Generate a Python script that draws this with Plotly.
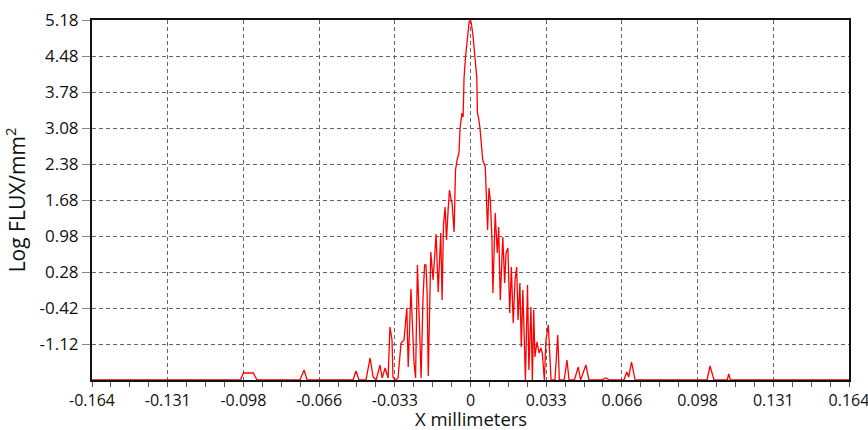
import plotly.graph_objects as go

x_mm = [-0.1640, -0.0997, -0.0984, -0.0941, -0.0925, -0.0739, -0.0721, -0.0708,
        -0.0509, -0.0496, -0.0483, -0.0453, -0.0435, -0.0422, -0.0409, -0.0392,
        -0.0383, -0.0370, -0.0357, -0.0349, -0.0340, -0.0336, -0.0327, -0.0314,
        -0.0301, -0.0288, -0.0276, -0.0270, -0.0258, -0.0245, -0.0238, -0.0230,
        -0.0221, -0.0214, -0.0206, -0.0199, -0.0193, -0.0188, -0.0183, -0.0172,
        -0.0162, -0.0149, -0.0140, -0.0129, -0.0123, -0.0117, -0.0110, -0.0104,
        -0.0097, -0.0091, -0.0084, -0.0080, -0.0071, -0.0065, -0.0058, -0.0050,
        -0.0045, -0.0037, -0.0032, -0.0028, -0.0022, -0.0013, -0.0006, 0.0000,
        0.0004, 0.0011, 0.0019, 0.0027, 0.0030, 0.0035, 0.0041, 0.0053,
        0.0064, 0.0069, 0.0074, 0.0080, 0.0086, 0.0093, 0.0097, 0.0107,
        0.0116, 0.0122, 0.0129, 0.0140, 0.0148, 0.0154, 0.0162, 0.0170,
        0.0177, 0.0185, 0.0193, 0.0200, 0.0206, 0.0214, 0.0220, 0.0227,
        0.0235, 0.0238, 0.0247, 0.0253, 0.0262, 0.0268, 0.0274, 0.0279,
        0.0288, 0.0297, 0.0305, 0.0311, 0.0320, 0.0327, 0.0337, 0.0349,
        0.0366, 0.0378, 0.0385, 0.0406, 0.0418, 0.0427, 0.0450, 0.0467,
        0.0477, 0.0500, 0.0513, 0.0565, 0.0587, 0.0601, 0.0617, 0.0665,
        0.0677, 0.0685, 0.0698, 0.0713, 0.1025, 0.1038, 0.1055, 0.1112,
        0.1119, 0.1126, 0.1640]

log_flux = [-1.82, -1.82, -1.684, -1.684, -1.82, -1.82, -1.625, -1.82,
            -1.82, -1.645, -1.82, -1.82, -1.392, -1.762, -1.82, -1.528,
            -1.781, -1.586, -1.781, -0.789, -1.042, -1.762, -1.82, -1.781,
            -1.101, -1.042, -0.420, -1.567, -0.051, -1.470, -1.781, 0.416,
            -0.769, -1.781, -0.264, 0.416, 0.416, -0.128, -1.742, 0.669,
            0.124, 1.019, -0.109, 1.039, -0.264, 1.213, 1.544, 0.902,
            1.486, 1.874, 1.680, 1.622, 1.058, 2.263, 2.458, 2.594,
            3.080, 3.372, 3.294, 4.052, 4.441, 4.888, 5.141, 5.180,
            5.102, 4.869, 4.441, 4.072, 3.372, 3.275, 3.080, 2.458,
            2.322, 1.583, 1.097, 1.913, 1.680, 0.902, -0.128, 1.427,
            0.649, 1.155, -0.264, 0.961, 0.066, 0.649, 0.747, -0.517,
            0.377, -0.711, 0.124, 0.377, -0.653, 0.066, -1.178, -0.070,
            -1.567, -1.820, 0.027, -1.625, -0.401, -1.820, -0.459, -1.373,
            -1.081, -1.295, -1.198, -1.295, -1.820, -1.042, -0.750, -1.820,
            -1.820, -0.945, -1.820, -1.820, -1.431, -1.820, -1.820, -1.567,
            -1.820, -1.528, -1.820, -1.820, -1.781, -1.820, -1.820, -1.820,
            -1.664, -1.762, -1.470, -1.820, -1.820, -1.548, -1.820, -1.820,
            -1.703, -1.820, -1.820]

x_tick_vals = [-0.164, -0.1312, -0.0984, -0.0656, -0.0328, 0.0, 0.0328, 0.0656, 0.0984, 0.1312, 0.164]
x_tick_text = ["-0.164", "-0.131", "-0.098", "-0.066", "-0.033", "0", "0.033", "0.066", "0.098", "0.131", "0.164"]
y_tick_vals = [5.18, 4.48, 3.78, 3.08, 2.38, 1.68, 0.98, 0.28, -0.42, -1.12]
y_tick_text = ["5.18", "4.48", "3.78", "3.08", "2.38", "1.68", "0.98", "0.28", "-0.42", "-1.12"]

fig = go.Figure()
fig.add_trace(go.Scatter(x=x_mm, y=log_flux, mode="lines",
                         line=dict(color="#ff0000", width=1.3), showlegend=False))

font_family = "Open Sans, Noto Sans, sans-serif"

fig.update_layout(
    width=868, height=430,
    margin=dict(l=92, r=19, t=20, b=50, autoexpand=False),
    paper_bgcolor="white", plot_bgcolor="white",
    font=dict(family=font_family, size=16, color="#111111"),
    xaxis=dict(
        range=[-0.164, 0.164],
        automargin=False,
        tickvals=x_tick_vals, ticktext=x_tick_text,
        ticks="outside", ticklen=5, tickwidth=1, tickcolor="#555",
        ticklabeloverflow="allow",
        showgrid=True, gridcolor="#666", griddash="4px,3px", gridwidth=1,
        showline=True, linecolor="#111", linewidth=2, mirror=True,
        zeroline=False,
        minor=dict(dtick=0.0082, tick0=-0.164, ticks="outside", ticklen=5,
                   tickcolor="#555", showgrid=False),
        tickfont=dict(size=16),
    ),
    yaxis=dict(
        range=[-1.82, 5.18],
        automargin=False,
        tickvals=y_tick_vals, ticktext=y_tick_text,
        ticks="outside", ticklen=8, tickwidth=1, tickcolor="#888",
        showgrid=True, gridcolor="#666", griddash="4px,3px", gridwidth=1,
        showline=True, linecolor="#111", linewidth=2, mirror=True,
        zeroline=False,
        title=dict(text="Log FLUX/mm<sup>2</sup>", font=dict(size=21)),
        tickfont=dict(size=17),
    ),
    annotations=[dict(text="X millimeters", xref="paper", yref="paper",
                      x=0.5, y=0, yshift=-38, xanchor="center", yanchor="middle",
                      borderpad=0, showarrow=False,
                      font=dict(size=18.5, color="#111111"))],
)

fig.write_html("out.html")
